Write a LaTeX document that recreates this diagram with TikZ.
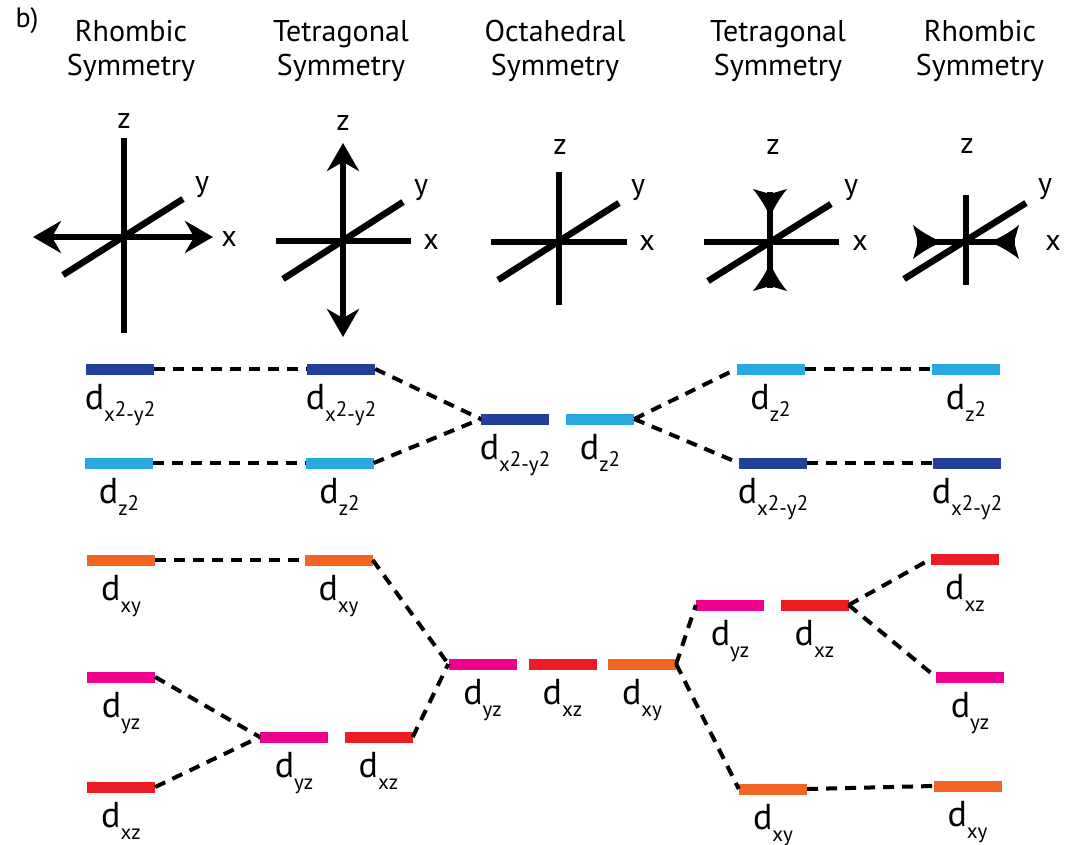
\documentclass[tikz,border=0pt]{standalone}
\usepackage{fontspec}
\setmainfont{PT Sans}
\usetikzlibrary{arrows.meta}
\definecolor{dblue}{HTML}{21409A}
\definecolor{lblue}{HTML}{27AAE1}
\definecolor{dorange}{HTML}{F26522}
\definecolor{dmagenta}{HTML}{EC008C}
\definecolor{dred}{HTML}{ED1C24}
\newcommand{\dsub}[1]{d\raisebox{-12pt}{\fontsize{21}{21}\selectfont #1}}
\newcommand{\myTwo}{\raisebox{5pt}{2}}
\tikzset{
 bar/.style={rectangle, inner sep=0pt, minimum width=68pt, minimum height=11pt, draw=none},
 conn/.style={black, line width=4pt, dash pattern=on 11pt off 8pt},
 axis/.style={black, line width=6.5pt},
 head/.style={fill=black},
 ttl/.style={align=center, font=\fontsize{30}{34}\selectfont, inner sep=0pt, anchor=north},
 axl/.style={font=\fontsize{30}{30}\selectfont, inner sep=0pt},
 lab/.style={font=\fontsize{36}{36}\selectfont, inner sep=0pt, anchor=north},
 outarr/.style={{Stealth[length=28pt,width=32pt]}-{Stealth[length=28pt,width=32pt]}},
}
\begin{document}
\begin{tikzpicture}[x=1pt,y=-1pt]
\useasboundingbox (0,0) rectangle (1067,845);
% titles
\node[inner sep=0pt, font=\fontsize{28}{28}\selectfont] (b) at (27,21) {b)};
\node[ttl] (t1) at (131,20) {Rhombic\\Symmetry};
\node[ttl] (t2) at (341,20) {Tetragonal\\Symmetry};
\node[ttl] (t3) at (555,20) {Octahedral\\Symmetry};
\node[ttl] (t4) at (778,20) {Tetragonal\\Symmetry};
\node[ttl] (t5) at (980,20) {Rhombic\\Symmetry};
% axes 1
\draw[axis] (124,138) -- (124,333);
\draw[axis, outarr] (33,237) -- (213,237);
\draw[axis] (63,275) -- (183,199);
\node[axl] (z1) at (124,121) {z};
\node[axl] (y1) at (202,187) {y};
\node[axl] (x1) at (229,239) {x};
% axes 2
\draw[axis, outarr] (343,143) -- (343,337);
\draw[axis] (276,241) -- (411,241);
\draw[axis] (283,279) -- (403,202);
\node[axl] (z2) at (343,123) {z};
\node[axl] (y2) at (421,190) {y};
\node[axl] (x2) at (431,242) {x};
% axes 3
\draw[axis] (559,172) -- (559,305);
\draw[axis] (491,242) -- (627,242);
\draw[axis] (498,280) -- (619,203);
\node[axl] (z3) at (560,147) {z};
\node[axl] (y3) at (638,190) {y};
\node[axl] (x3) at (647,243) {x};
% axes 4
\draw[axis] (770,192) -- (770,288);
\fill[head] (770,217) .. controls (765.8,207) and (760.2,198) .. (753,189) -- (770,194) -- (787,189) .. controls (779.8,198) and (774.2,207) .. (770,217) -- cycle;
\fill[head] (770,263) .. controls (765.8,273) and (760.2,282) .. (753,291) -- (770,286) -- (787,291) .. controls (779.8,282) and (774.2,273) .. (770,263) -- cycle;
\draw[axis] (704,242) -- (839,242);
\draw[axis] (708,281) -- (831,204);
\node[axl] (z4) at (773,147) {z};
\node[axl] (y4) at (851,190) {y};
\node[axl] (x4) at (860,243) {x};
% axes 5
\draw[axis] (966,195) -- (966,285);
\draw[axis] (917,242) -- (1015,242);
\fill[head] (942,242) .. controls (932,237.8) and (922,232.2) .. (913,225) -- (918,242) -- (913,259) .. controls (922,251.8) and (932,246.2) .. (942,242) -- cycle;
\fill[head] (990,242) .. controls (1000,237.8) and (1010,232.2) .. (1019,225) -- (1014,242) -- (1019,259) .. controls (1010,251.8) and (1000,246.2) .. (990,242) -- cycle;
\draw[axis] (904,279) -- (1026,203);
\node[axl] (z5) at (967,146) {z};
\node[axl] (y5) at (1045,189) {y};
\node[axl] (x5) at (1053,243) {x};
% bars top
\node[bar, fill=dblue] (Lx) at (120,369) {};
\node[bar, fill=lblue] (Lz) at (119,463) {};
\node[bar, fill=dblue] (Tx) at (341,369) {};
\node[bar, fill=lblue] (Tz) at (339.5,463) {};
\node[bar, fill=dblue] (Ox) at (515,419) {};
\node[bar, fill=lblue] (Oz) at (600,419) {};
\node[bar, fill=lblue] (Sz) at (770.5,369) {};
\node[bar, fill=dblue] (Sx) at (773,463) {};
\node[bar, fill=lblue] (Rz) at (966,369) {};
\node[bar, fill=dblue] (Rx) at (967,463) {};
% bars bottom
\node[bar, fill=dorange] (Lxy) at (121,560) {};
\node[bar, fill=dmagenta] (Lyz) at (121,677) {};
\node[bar, fill=dred] (Lxz) at (121,787) {};
\node[bar, fill=dorange] (Txy) at (338.5,560) {};
\node[bar, fill=dmagenta] (Tyz) at (294,737) {};
\node[bar, fill=dred] (Txz) at (378.5,737) {};
\node[bar, fill=dmagenta] (Oyz) at (482.5,664) {};
\node[bar, fill=dred] (Oxz) at (562.5,664) {};
\node[bar, fill=dorange] (Oxy) at (642,664) {};
\node[bar, fill=dmagenta] (Syz) at (730,605) {};
\node[bar, fill=dred] (Sxz) at (814.5,605) {};
\node[bar, fill=dorange] (Sxy) at (773,789) {};
\node[bar, fill=dred] (Rxz) at (965,559) {};
\node[bar, fill=dmagenta] (Ryz) at (970,677) {};
\node[bar, fill=dorange] (Rxy) at (967.5,786) {};
% labels
\node[lab] (Lxl) at ([yshift=-9pt]Lx.south) {\dsub{x\myTwo-y\myTwo}};
\node[lab] (Lzl) at ([yshift=-9pt]Lz.south) {\dsub{z\myTwo}};
\node[lab] (Txl) at ([yshift=-9pt]Tx.south) {\dsub{x\myTwo-y\myTwo}};
\node[lab] (Tzl) at ([yshift=-9pt]Tz.south) {\dsub{z\myTwo}};
\node[lab] (Oxl) at ([yshift=-9pt]Ox.south) {\dsub{x\myTwo-y\myTwo}};
\node[lab] (Ozl) at ([yshift=-9pt]Oz.south) {\dsub{z\myTwo}};
\node[lab] (Szl) at ([yshift=-9pt]Sz.south) {\dsub{z\myTwo}};
\node[lab] (Sxl) at ([yshift=-9pt]Sx.south) {\dsub{x\myTwo-y\myTwo}};
\node[lab] (Rzl) at ([yshift=-9pt]Rz.south) {\dsub{z\myTwo}};
\node[lab] (Rxl) at ([yshift=-9pt]Rx.south) {\dsub{x\myTwo-y\myTwo}};
\node[lab] (Lxyl) at ([yshift=-9pt]Lxy.south) {\dsub{xy}};
\node[lab] (Lyzl) at ([yshift=-9pt]Lyz.south) {\dsub{yz}};
\node[lab] (Lxzl) at ([yshift=-9pt]Lxz.south) {\dsub{xz}};
\node[lab] (Txyl) at ([yshift=-9pt]Txy.south) {\dsub{xy}};
\node[lab] (Tyzl) at ([yshift=-9pt]Tyz.south) {\dsub{yz}};
\node[lab] (Txzl) at ([yshift=-9pt]Txz.south) {\dsub{xz}};
\node[lab] (Oyzl) at ([yshift=-9pt]Oyz.south) {\dsub{yz}};
\node[lab] (Oxzl) at ([yshift=-9pt]Oxz.south) {\dsub{xz}};
\node[lab] (Oxyl) at ([yshift=-9pt]Oxy.south) {\dsub{xy}};
\node[lab] (Syzl) at ([yshift=-9pt]Syz.south) {\dsub{yz}};
\node[lab] (Sxzl) at ([yshift=-9pt]Sxz.south) {\dsub{xz}};
\node[lab] (Sxyl) at ([yshift=-9pt]Sxy.south) {\dsub{xy}};
\node[lab] (Rxzl) at ([yshift=-9pt]Rxz.south) {\dsub{xz}};
\node[lab] (Ryzl) at ([yshift=-9pt]Ryz.south) {\dsub{yz}};
\node[lab] (Rxyl) at ([yshift=-9pt]Rxy.south) {\dsub{xy}};
% connectors top
\draw[conn] (Lx.east) -- (Tx.west);
\draw[conn] (Lz.east) -- (Tz.west);
\draw[conn] (Tx.east) -- (Ox.west);
\draw[conn] (Tz.east) -- (Ox.west);
\draw[conn] (Oz.east) -- (Sz.west);
\draw[conn] (Oz.east) -- (Sx.west);
\draw[conn] (Sz.east) -- (Rz.west);
\draw[conn] (Sx.east) -- (Rx.west);
% connectors bottom
\draw[conn] (Lxy.east) -- (Txy.west);
\draw[conn] (Txy.east) -- (Oyz.west);
\draw[conn] (Lyz.east) -- (Tyz.west);
\draw[conn] (Lxz.east) -- (Tyz.west);
\draw[conn] (Txz.east) -- (Oyz.west);
\draw[conn] (Oxy.east) -- (Syz.west);
\draw[conn] (Oxy.east) -- (Sxy.west);
\draw[conn] (Sxz.east) -- (Rxz.west);
\draw[conn] (Sxz.east) -- (Ryz.west);
\draw[conn] (Sxy.east) -- (Rxy.west);
\end{tikzpicture}
\end{document}
